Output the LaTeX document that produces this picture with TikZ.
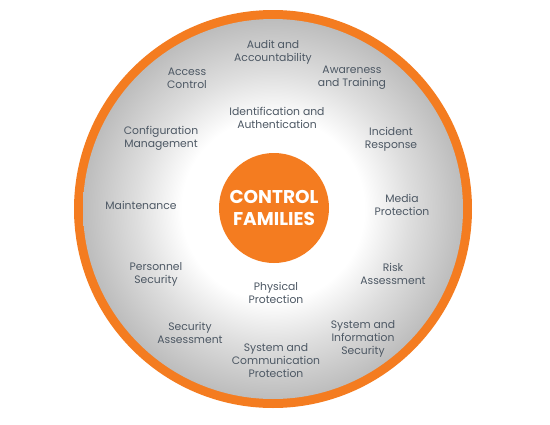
\documentclass[tikz,border=0pt]{standalone}
\usepackage{fontspec}
\setmainfont{Poppins}
\definecolor{corange}{HTML}{F47C20}
\definecolor{ctext}{HTML}{4D5864}
\pgfdeclareradialshading{diskshade}{\pgfpoint{0bp}{0bp}}{color(0bp)=(white); color(12bp)=(white); color(18bp)=(black!13); color(25bp)=(black!26); color(50bp)=(black!26)}
\begin{document}
\begin{tikzpicture}[x=1pt,y=-1pt,
  fam/.style={font=\fontsize{10.8}{13}\selectfont, text=ctext, align=center, inner sep=0pt},
  core/.style={circle, fill=corange, minimum size=110pt, inner sep=0pt, text=white, align=center, font=\fontsize{18.5}{22}\selectfont\bfseries}]
\useasboundingbox (0,0) rectangle (550,424);
\fill[corange] (273,209) circle (199);
\shade[shading=diskshade] (273,209) circle (190);
\node[core] (cf) at (274,208) {CONTROL\\FAMILIES};
\node[fam] (au) at (273,52) {Audit and\\Accountability};
\node[fam] (ac) at (187,78) {Access\\Control};
\node[fam] (aw) at (352,78) {Awareness\\and Training};
\node[fam] (ia) at (277,118) {Identification and\\Authentication};
\node[fam] (cm) at (161,138) {Configuration\\Management};
\node[fam] (ir) at (391,139) {Incident\\Response};
\node[fam] (mt) at (141,205) {Maintenance};
\node[fam] (mp) at (402,205) {Media\\Protection};
\node[fam] (ps) at (156,274) {Personnel\\Security};
\node[fam] (ra) at (393,274) {Risk\\Assessment};
\node[fam] (pp) at (276,293) {Physical\\Protection};
\node[fam] (sa) at (190,333) {Security\\Assessment};
\node[fam] (si) at (363,339) {System and\\Information\\Security};
\node[fam] (sc) at (276,361) {System and\\Communication\\Protection};
\end{tikzpicture}
\end{document}
